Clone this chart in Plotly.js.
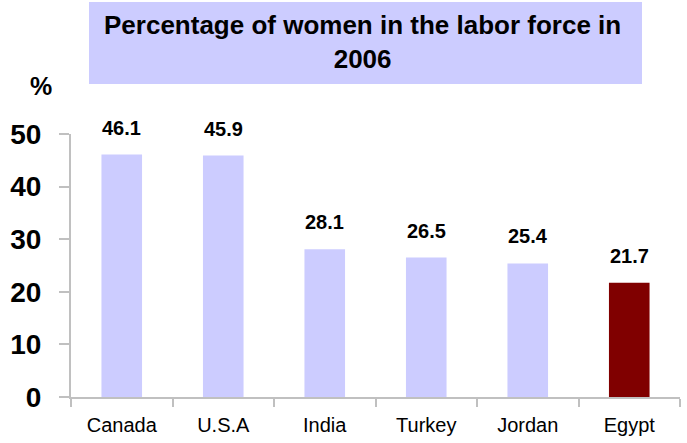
<!DOCTYPE html>
<html>
<head>
<meta charset="utf-8">
<script src="https://cdn.plot.ly/plotly-3.0.1.min.js"></script>
<style>html,body{margin:0;padding:0;background:#fff;}#chart{width:687px;height:443px;}</style>
</head>
<body>
<div id="chart"></div>
<script>
const categories = ["Canada", "U.S.A", "India", "Turkey", "Jordan", "Egypt"];
const values = [46.1, 45.9, 28.1, 26.5, 25.4, 21.7];
const valueLabels = ["46.1", "45.9", "28.1", "26.5", "25.4", "21.7"];
const barColors = ["#ccccff", "#ccccff", "#ccccff", "#ccccff", "#ccccff", "#800000"];
const yTicks = [0, 10, 20, 30, 40, 50];
const titleText = "Percentage of women in the labor force in<br>2006";

const W = 687, H = 443;
const m = {l: 71, r: 7, t: 134, b: 46};
const pw = W - m.l - m.r, ph = H - m.t - m.b;
const px2x = px => (px - m.l) / pw;
const py2y = py => (H - m.b - py) / ph;

const trace = {
  type: "bar",
  x: categories,
  y: values,
  marker: {color: barColors, line: {width: 0}},
  width: 0.4,
  hoverinfo: "none"
};

const annotations = categories.map((c, i) => ({
  x: c, y: values[i], xref: "x", yref: "y",
  text: valueLabels[i], showarrow: false,
  yanchor: "bottom", yshift: 14,
  font: {family: "Liberation Sans, Arial, sans-serif", size: 20, color: "#000", weight: "bold"}
}));
annotations.push({
  xref: "paper", yref: "paper", x: px2x(362), y: py2y(42),
  xanchor: "center", yanchor: "middle",
  text: titleText, showarrow: false,
  font: {family: "Liberation Sans, Arial, sans-serif", size: 26, color: "#000", weight: "bold"}
});
annotations.push({
  xref: "paper", yref: "paper", x: px2x(41), y: py2y(86),
  xanchor: "center", yanchor: "middle",
  text: "%", showarrow: false,
  font: {family: "Liberation Sans, Arial, sans-serif", size: 25, color: "#000", weight: "bold"}
});

const layout = {
  width: W, height: H,
  margin: m,
  paper_bgcolor: "#fff", plot_bgcolor: "#fff",
  showlegend: false,
  bargap: 0.6,
  xaxis: {
    type: "category",
    showline: true, linecolor: "#c0c0c0", linewidth: 2,
    ticks: "outside", ticklen: 8, tickcolor: "#c0c0c0", tickwidth: 2,
    tickson: "boundaries",
    showgrid: false, zeroline: false,
    tickfont: {family: "Liberation Sans, Arial, sans-serif", size: 20, color: "#000"},
    ticklabelstandoff: 9,
    fixedrange: true
  },
  yaxis: {
    range: [0, 50],
    tickvals: yTicks,
    ticktext: yTicks.map(String),
    showline: true, linecolor: "#c0c0c0", linewidth: 2,
    ticks: "outside", ticklen: 10, tickcolor: "#c0c0c0", tickwidth: 2,
    showgrid: false, zeroline: false,
    tickfont: {family: "Liberation Sans, Arial, sans-serif", size: 28, color: "#000", weight: "bold"},
    ticklabelstandoff: 12,
    fixedrange: true
  },
  shapes: [{
    type: "rect", xref: "paper", yref: "paper",
    x0: px2x(89), x1: px2x(642), y0: py2y(84), y1: py2y(2),
    fillcolor: "#ccccff", line: {width: 0}, layer: "below"
  }],
  annotations: annotations
};

Plotly.newPlot("chart", [trace], layout, {displayModeBar: false, staticPlot: true});
</script>
</body>
</html>
